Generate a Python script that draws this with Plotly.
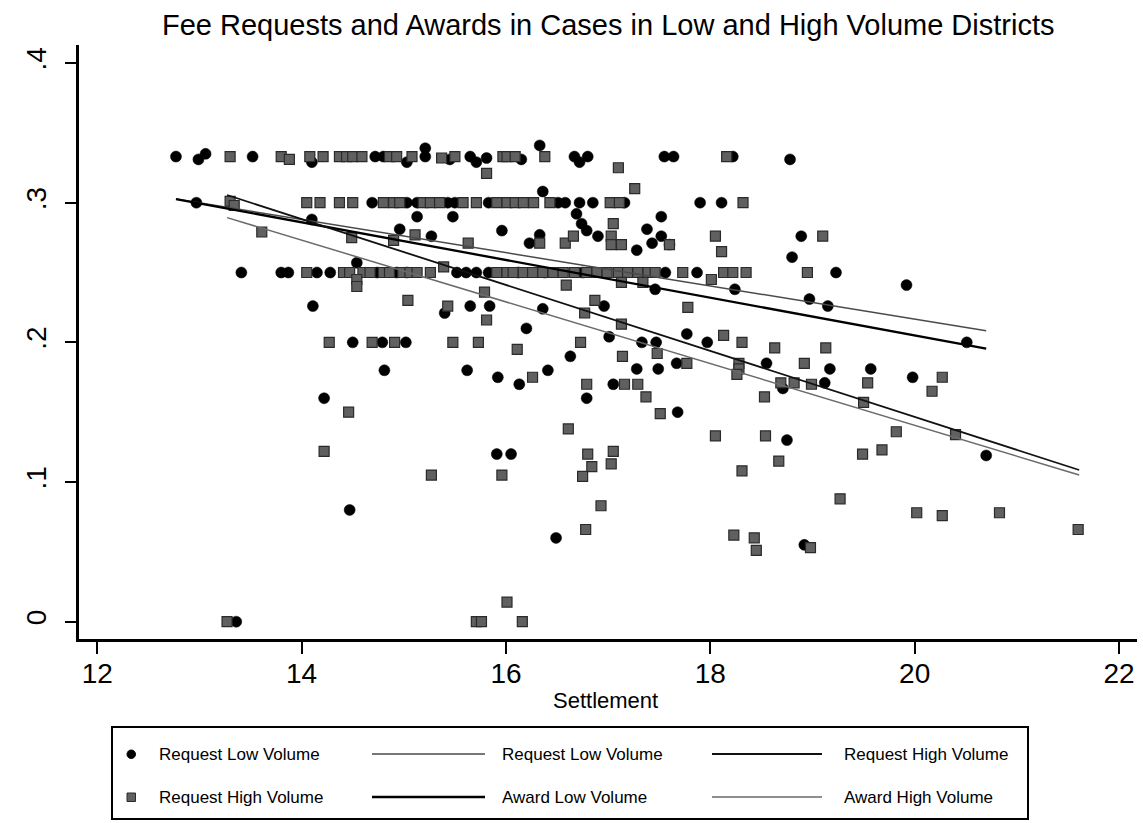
import plotly.graph_objects as go

# ---------------- data ----------------
# Request Low Volume (circles)
low_x = [12.77, 12.99, 13.06, 13.52, 14.10, 14.72, 14.80, 15.03, 15.21, 15.21,
         15.45, 15.65, 15.71, 15.81, 16.15, 16.33, 16.67, 16.72, 16.80, 17.55,
         17.64, 18.22, 18.78,
         12.97, 14.69, 15.03, 15.13, 15.43, 15.50, 15.83, 16.36, 16.51, 16.58,
         16.72, 16.85, 17.16, 17.90, 18.11,
         14.10, 15.13, 15.48, 14.96, 15.27, 15.96, 16.69, 16.74, 16.79, 16.90,
         17.38, 17.52, 17.52, 16.23, 16.33, 17.28, 17.43, 17.60, 18.89, 18.80,
         19.92,
         13.41, 13.80, 13.87, 14.15, 14.28, 14.54, 14.74, 14.93, 15.03, 15.52,
         15.61, 15.71, 15.83, 16.12, 16.38, 16.75, 17.56, 17.87, 19.23,
         17.46, 18.24, 18.97, 19.15, 16.96, 16.36, 14.11, 15.40, 15.65, 15.84,
         16.20, 17.01, 17.77, 17.33, 17.47, 17.97, 20.51, 14.50, 14.79, 15.02,
         16.63, 18.55, 17.67, 14.81, 15.62, 16.41, 17.28, 17.49, 19.17, 19.57,
         15.92, 19.98, 16.13, 17.05, 19.12, 18.71, 14.22, 16.79, 17.68, 18.75,
         15.91, 16.05, 20.70, 14.47, 16.49, 18.92, 13.36]
low_y = [0.333, 0.331, 0.335, 0.333, 0.329, 0.333, 0.333, 0.329, 0.339, 0.333,
         0.331, 0.333, 0.329, 0.332, 0.331, 0.341, 0.333, 0.329, 0.333, 0.333,
         0.333, 0.333, 0.331,
         0.300, 0.300, 0.300, 0.300, 0.300, 0.300, 0.300, 0.308, 0.300, 0.300,
         0.300, 0.300, 0.300, 0.300, 0.300,
         0.288, 0.290, 0.290, 0.281, 0.276, 0.280, 0.292, 0.285, 0.280, 0.276,
         0.281, 0.276, 0.290, 0.271, 0.277, 0.266, 0.271, 0.270, 0.276, 0.261,
         0.241,
         0.250, 0.250, 0.250, 0.250, 0.250, 0.257, 0.250, 0.250, 0.250, 0.250,
         0.250, 0.250, 0.250, 0.250, 0.250, 0.250, 0.250, 0.250, 0.250,
         0.238, 0.238, 0.231, 0.226, 0.226, 0.224, 0.226, 0.221, 0.226, 0.226,
         0.210, 0.204, 0.206, 0.200, 0.200, 0.200, 0.200, 0.200, 0.200, 0.200,
         0.190, 0.185, 0.185, 0.180, 0.180, 0.180, 0.181, 0.181, 0.181, 0.181,
         0.175, 0.175, 0.170, 0.170, 0.171, 0.167, 0.160, 0.160, 0.150, 0.130,
         0.120, 0.120, 0.119, 0.080, 0.060, 0.055, 0.000]

# Request High Volume (squares)
high_x = [13.30, 13.80, 13.88, 14.08, 14.21, 14.37, 14.44, 14.50, 14.59, 14.86,
          14.93, 15.08, 15.37, 15.50, 15.97, 16.01, 16.09, 16.38, 18.16, 15.81,
          17.10, 17.26,
          13.30, 13.34, 14.05, 14.18, 14.37, 14.50, 14.80, 14.90, 14.96, 15.19,
          15.26, 15.35, 15.58, 15.71, 15.91, 16.01, 16.09, 16.17, 16.27, 16.43,
          17.02, 17.11, 18.32,
          13.61, 14.49, 14.90, 15.11, 15.63, 16.33, 16.58, 16.66, 17.05, 17.03,
          17.03, 17.13, 17.60, 18.05, 18.11, 19.10,
          14.05, 14.41, 14.47, 14.60, 14.67, 14.80, 14.86, 14.99, 15.06, 15.13,
          15.26, 15.39, 15.91, 16.01, 16.07, 16.17, 16.26, 16.36, 16.46, 16.56,
          16.67, 16.79, 16.89, 16.99, 17.10, 17.19, 17.29, 17.39, 17.46, 17.73,
          18.13, 18.22, 18.35, 18.95,
          14.54, 14.54, 15.79, 16.59, 17.13, 17.34, 18.01, 15.04, 15.43, 16.87,
          17.78, 16.77, 15.81, 17.13, 18.13, 14.27, 14.69, 14.91, 15.48, 15.73,
          16.73, 18.31, 16.11, 18.63, 19.13, 17.48, 17.14, 17.77, 18.28, 18.92,
          18.28, 18.26, 16.26, 20.27, 16.79, 17.16, 17.29, 18.69, 18.82, 18.99,
          19.54, 20.17, 18.53, 17.37, 19.50, 14.46, 17.51, 16.61, 19.82, 18.05,
          18.54, 20.40, 14.22, 19.49, 19.68, 16.80, 17.05, 17.03, 16.84, 16.75,
          18.67, 18.31, 15.27, 15.96, 16.93, 19.27, 20.02, 20.27, 20.83, 21.60,
          16.78, 18.23, 18.43, 18.45, 18.98, 16.01, 13.27, 15.71, 15.76, 16.16]
high_y = [0.333, 0.333, 0.331, 0.333, 0.333, 0.333, 0.333, 0.333, 0.333, 0.333,
          0.333, 0.333, 0.332, 0.333, 0.333, 0.333, 0.333, 0.333, 0.333, 0.321,
          0.325, 0.310,
          0.301, 0.298, 0.300, 0.300, 0.300, 0.300, 0.300, 0.300, 0.300, 0.300,
          0.300, 0.300, 0.300, 0.300, 0.300, 0.300, 0.300, 0.300, 0.300, 0.300,
          0.300, 0.300, 0.300,
          0.279, 0.275, 0.273, 0.277, 0.271, 0.271, 0.271, 0.276, 0.285, 0.276,
          0.270, 0.270, 0.270, 0.276, 0.265, 0.276,
          0.250, 0.250, 0.250, 0.250, 0.250, 0.250, 0.250, 0.250, 0.250, 0.250,
          0.250, 0.254, 0.250, 0.250, 0.250, 0.250, 0.250, 0.250, 0.250, 0.250,
          0.250, 0.250, 0.250, 0.250, 0.250, 0.250, 0.250, 0.250, 0.250, 0.250,
          0.250, 0.250, 0.250, 0.250,
          0.245, 0.240, 0.236, 0.241, 0.243, 0.243, 0.245, 0.230, 0.226, 0.230,
          0.225, 0.221, 0.216, 0.213, 0.205, 0.200, 0.200, 0.200, 0.200, 0.200,
          0.200, 0.200, 0.195, 0.196, 0.196, 0.192, 0.190, 0.185, 0.185, 0.185,
          0.181, 0.177, 0.175, 0.175, 0.170, 0.170, 0.170, 0.171, 0.171, 0.170,
          0.171, 0.165, 0.161, 0.161, 0.157, 0.150, 0.149, 0.138, 0.136, 0.133,
          0.133, 0.134, 0.122, 0.120, 0.123, 0.120, 0.122, 0.113, 0.111, 0.104,
          0.115, 0.108, 0.105, 0.105, 0.083, 0.088, 0.078, 0.076, 0.078, 0.066,
          0.066, 0.062, 0.060, 0.051, 0.053, 0.014, 0.000, 0.000, 0.000, 0.000]

# Fitted lines (end points)
fit_names = ["Request Low Volume", "Award Low Volume",
             "Request High Volume", "Award High Volume"]
fit_x0 = [12.77, 12.77, 13.27, 13.27]
fit_x1 = [20.70, 20.70, 21.61, 21.61]
fit_y0 = [0.3026, 0.3026, 0.3055, 0.2893]
fit_y1 = [0.2083, 0.1955, 0.1086, 0.1050]

x_tickvals = [12, 14, 16, 18, 20, 22]
y_tickvals = [0, 0.1, 0.2, 0.3, 0.4]
y_ticktext = ["0", ".1", ".2", ".3", ".4"]

title_text = "Fee Requests and Awards in Cases in Low and High Volume Districts"
x_title = "Settlement"

# ---------------- styling ----------------
W, H = 1143, 823
L, R, T, B = 79, 6, 45, 184
FONT = "Liberation Sans, Arial, sans-serif"
fit_colors = ["#4a4a4a", "#000000", "#111111", "#6a6a6a"]
fit_widths = [1.5, 2.3, 1.8, 1.5]
SQ_FILL = "#606060"
SQ_LINE = "#2a2a2a"

fig = go.Figure()

fig.add_trace(go.Scatter(
    x=low_x, y=low_y, mode="markers", name="Request Low Volume",
    marker=dict(symbol="circle", size=11, color="#000000",
                line=dict(color="#000000", width=0.5)),
    showlegend=False))
fig.add_trace(go.Scatter(
    x=high_x, y=high_y, mode="markers", name="Request High Volume",
    marker=dict(symbol="square", size=10, color=SQ_FILL,
                line=dict(color=SQ_LINE, width=1.2)),
    showlegend=False))

for i in range(4):
    fig.add_trace(go.Scatter(
        x=[fit_x0[i], fit_x1[i]], y=[fit_y0[i], fit_y1[i]], mode="lines",
        name=fit_names[i],
        line=dict(color=fit_colors[i], width=fit_widths[i]),
        showlegend=False))

pw = W - L - R
ph = H - T - B


def px_x(p):
    return (p - L) / pw


def px_y(p):
    return (H - B - p) / ph


shapes = []
annotations = []

# legend box
shapes.append(dict(type="rect", xref="paper", yref="paper",
                   x0=px_x(112), x1=px_x(1028), y0=px_y(819), y1=px_y(727),
                   line=dict(color="black", width=2), fillcolor="white",
                   layer="below"))
row_y = [754, 797]
shapes.append(dict(type="circle", xref="paper", yref="paper",
                   x0=px_x(127), x1=px_x(135.5), y0=px_y(758.5), y1=px_y(750),
                   line=dict(color="black", width=1), fillcolor="black"))
shapes.append(dict(type="rect", xref="paper", yref="paper",
                   x0=px_x(127), x1=px_x(135.5), y0=px_y(801.5), y1=px_y(793),
                   line=dict(color=SQ_LINE, width=1), fillcolor=SQ_FILL))
legend_entries = [
    (157, row_y[0], "Request Low Volume"),
    (157, row_y[1], "Request High Volume"),
    (500, row_y[0], fit_names[0]),
    (500, row_y[1], fit_names[1]),
    (842, row_y[0], fit_names[2]),
    (842, row_y[1], fit_names[3]),
]
for (lx, ly, txt) in legend_entries:
    annotations.append(dict(x=px_x(lx), y=px_y(ly), xref="paper", yref="paper",
                            text=txt, showarrow=False, xanchor="left",
                            yanchor="middle",
                            font=dict(family=FONT, size=17, color="black")))
line_samples = [(372, 485, row_y[0], 0), (372, 485, row_y[1], 1),
                (712, 822, row_y[0], 2), (712, 822, row_y[1], 3)]
for (a, b, ly, k) in line_samples:
    shapes.append(dict(type="line", xref="paper", yref="paper",
                       x0=px_x(a), x1=px_x(b), y0=px_y(ly), y1=px_y(ly),
                       line=dict(color=fit_colors[k], width=fit_widths[k])))

annotations.append(dict(x=px_x(605), y=px_y(700), xref="paper", yref="paper",
                        text=x_title, showarrow=False, xanchor="center",
                        yanchor="middle",
                        font=dict(family=FONT, size=22, color="black")))
annotations.append(dict(x=px_x(608), y=px_y(25), xref="paper", yref="paper",
                        text=title_text, showarrow=False, xanchor="center",
                        yanchor="middle",
                        font=dict(family=FONT, size=29, color="black")))

fig.update_layout(
    width=W, height=H,
    margin=dict(l=L, r=R, t=T, b=B, pad=0, autoexpand=False),
    paper_bgcolor="white", plot_bgcolor="white",
    shapes=shapes, annotations=annotations,
    showlegend=False,
    xaxis=dict(range=[11.821, 22.176], tickvals=x_tickvals, automargin=False,
               ticklabelstandoff=-4,
               showline=True, linecolor="black", linewidth=2.5,
               ticks="outside", ticklen=12, tickwidth=2, tickcolor="black",
               showgrid=False, zeroline=False,
               tickfont=dict(family=FONT, size=28, color="black")),
    yaxis=dict(range=[-0.0124, 0.4129], tickvals=y_tickvals, automargin=False,
               ticktext=y_ticktext, tickangle=-90, ticklabelstandoff=8,
               showline=True, linecolor="black", linewidth=2.5,
               ticks="outside", ticklen=11, tickwidth=2, tickcolor="black",
               showgrid=False, zeroline=False,
               tickfont=dict(family=FONT, size=28, color="black")),
)

fig.write_html(
    "out.html",
    config={"displayModeBar": False},
    post_script="document.body.style.margin='0';"
                "document.body.style.overflow='hidden';",
)
